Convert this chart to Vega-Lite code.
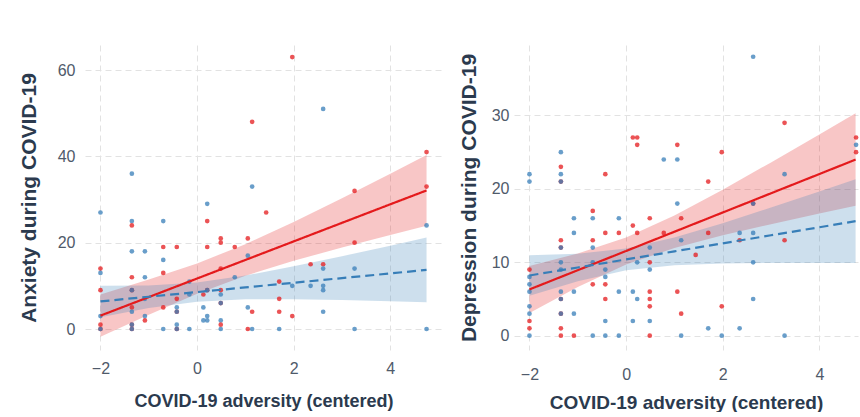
{
  "$schema": "https://vega.github.io/schema/vega-lite/v6.json",
  "padding": {"left": 18, "top": 45, "right": 0, "bottom": 0},
  "spacing": 16,
  "datasets": {
    "anx": [
      {"x":-2,"y":27,"g":"B"},{"x":-2,"y":14,"g":"A"},{"x":-2,"y":13,"g":"B"},{"x":-2,"y":9,"g":"A"},{"x":-2,"y":3,"g":"B"},{"x":-2,"y":1,"g":"A"},{"x":-2,"y":0,"g":"A"},{"x":-2,"y":0,"g":"B"},
      {"x":-1.35,"y":36,"g":"B"},{"x":-1.35,"y":25,"g":"B"},{"x":-1.35,"y":24,"g":"A"},{"x":-1.35,"y":18,"g":"B"},{"x":-1.35,"y":12,"g":"A"},{"x":-1.35,"y":9,"g":"A"},{"x":-1.35,"y":9,"g":"B"},{"x":-1.35,"y":5,"g":"A"},{"x":-1.35,"y":4,"g":"B"},{"x":-1.35,"y":1,"g":"A"},{"x":-1.35,"y":1,"g":"B"},{"x":-1.35,"y":0,"g":"A"},{"x":-1.35,"y":0,"g":"B"},
      {"x":-1.08,"y":18,"g":"B"},{"x":-1.08,"y":12,"g":"B"},{"x":-1.08,"y":7,"g":"B"},{"x":-1.08,"y":3,"g":"B"},{"x":-1.08,"y":2,"g":"A"},
      {"x":-0.7,"y":25,"g":"B"},{"x":-0.7,"y":19,"g":"A"},{"x":-0.7,"y":16,"g":"B"},{"x":-0.7,"y":13,"g":"A"},{"x":-0.7,"y":5,"g":"A"},{"x":-0.7,"y":0,"g":"B"},
      {"x":-0.42,"y":19,"g":"A"},{"x":-0.42,"y":7,"g":"A"},{"x":-0.42,"y":5,"g":"B"},{"x":-0.42,"y":4,"g":"A"},{"x":-0.42,"y":4,"g":"B"},{"x":-0.42,"y":1,"g":"B"},{"x":-0.42,"y":0,"g":"A"},{"x":-0.42,"y":0,"g":"B"},
      {"x":-0.16,"y":11,"g":"B"},{"x":-0.16,"y":8,"g":"B"},{"x":-0.16,"y":0,"g":"B"},
      {"x":0.13,"y":8,"g":"A"},{"x":0.13,"y":5,"g":"B"},{"x":0.13,"y":2,"g":"B"},
      {"x":0.21,"y":29,"g":"B"},{"x":0.21,"y":25,"g":"A"},{"x":0.21,"y":19,"g":"A"},{"x":0.21,"y":9,"g":"A"},{"x":0.21,"y":9,"g":"B"},{"x":0.21,"y":3,"g":"B"},{"x":0.21,"y":2,"g":"B"},
      {"x":0.49,"y":21,"g":"A"},{"x":0.49,"y":20,"g":"A"},{"x":0.49,"y":14,"g":"A"},{"x":0.49,"y":9,"g":"A"},{"x":0.49,"y":8,"g":"B"},{"x":0.49,"y":6,"g":"A"},{"x":0.49,"y":6,"g":"B"},{"x":0.49,"y":2,"g":"B"},{"x":0.49,"y":1,"g":"A"},{"x":0.49,"y":0,"g":"B"},
      {"x":0.78,"y":19,"g":"A"},{"x":0.78,"y":12,"g":"B"},
      {"x":1.05,"y":21,"g":"A"},{"x":1.05,"y":17,"g":"B"},{"x":1.05,"y":5,"g":"B"},{"x":1.05,"y":0,"g":"A"},
      {"x":1.14,"y":48,"g":"A"},{"x":1.14,"y":33,"g":"B"},{"x":1.14,"y":4,"g":"A"},{"x":1.14,"y":0,"g":"B"},
      {"x":1.43,"y":27,"g":"A"},
      {"x":1.7,"y":11,"g":"A"},{"x":1.7,"y":7,"g":"A"},{"x":1.7,"y":4,"g":"A"},{"x":1.7,"y":0,"g":"B"},
      {"x":1.97,"y":63,"g":"A"},{"x":1.97,"y":10,"g":"B"},{"x":1.97,"y":3,"g":"A"},
      {"x":2.35,"y":15,"g":"A"},{"x":2.35,"y":10,"g":"B"},
      {"x":2.61,"y":51,"g":"B"},{"x":2.61,"y":15,"g":"A"},{"x":2.61,"y":14,"g":"B"},{"x":2.61,"y":10,"g":"B"},{"x":2.61,"y":9,"g":"B"},{"x":2.61,"y":4,"g":"B"},
      {"x":3.26,"y":32,"g":"A"},{"x":3.26,"y":20,"g":"A"},{"x":3.26,"y":14,"g":"B"},{"x":3.26,"y":0,"g":"B"},
      {"x":4.75,"y":41,"g":"A"},{"x":4.75,"y":33,"g":"A"},{"x":4.75,"y":24,"g":"B"},{"x":4.75,"y":0,"g":"B"}
    ],
    "dep": [
      {"x":-2,"y":22,"g":"B"},{"x":-2,"y":21,"g":"B"},{"x":-2,"y":9,"g":"A"},{"x":-2,"y":8,"g":"B"},{"x":-2,"y":7,"g":"B"},{"x":-2,"y":6,"g":"B"},{"x":-2,"y":4,"g":"B"},{"x":-2,"y":3,"g":"B"},{"x":-2,"y":2,"g":"A"},{"x":-2,"y":1,"g":"A"},{"x":-2,"y":0,"g":"B"},
      {"x":-1.35,"y":25,"g":"B"},{"x":-1.35,"y":23,"g":"A"},{"x":-1.35,"y":22,"g":"B"},{"x":-1.35,"y":21,"g":"A"},{"x":-1.35,"y":21,"g":"B"},{"x":-1.35,"y":13,"g":"A"},{"x":-1.35,"y":12,"g":"A"},{"x":-1.35,"y":12,"g":"B"},{"x":-1.35,"y":10,"g":"B"},{"x":-1.35,"y":9,"g":"B"},{"x":-1.35,"y":6,"g":"B"},{"x":-1.35,"y":5,"g":"A"},{"x":-1.35,"y":5,"g":"B"},{"x":-1.35,"y":3,"g":"A"},{"x":-1.35,"y":3,"g":"B"},{"x":-1.35,"y":1,"g":"A"},{"x":-1.35,"y":0,"g":"A"},
      {"x":-1.08,"y":16,"g":"B"},{"x":-1.08,"y":14,"g":"B"},{"x":-1.08,"y":6,"g":"B"},{"x":-1.08,"y":3,"g":"B"},{"x":-1.08,"y":0,"g":"A"},
      {"x":-0.69,"y":17,"g":"A"},{"x":-0.69,"y":16,"g":"B"},{"x":-0.69,"y":13,"g":"A"},{"x":-0.69,"y":12,"g":"B"},{"x":-0.69,"y":10,"g":"B"},{"x":-0.69,"y":7,"g":"A"},{"x":-0.69,"y":0,"g":"B"},
      {"x":-0.43,"y":22,"g":"A"},{"x":-0.43,"y":14,"g":"A"},{"x":-0.43,"y":9,"g":"B"},{"x":-0.43,"y":8,"g":"B"},{"x":-0.43,"y":7,"g":"A"},{"x":-0.43,"y":5,"g":"A"},{"x":-0.43,"y":2,"g":"B"},{"x":-0.43,"y":0,"g":"B"},
      {"x":-0.15,"y":16,"g":"B"},{"x":-0.15,"y":14,"g":"A"},{"x":-0.15,"y":6,"g":"B"},{"x":-0.15,"y":0,"g":"B"},
      {"x":0.14,"y":27,"g":"A"},{"x":0.14,"y":15,"g":"A"},{"x":0.14,"y":6,"g":"B"},{"x":0.14,"y":2,"g":"B"},
      {"x":0.23,"y":27,"g":"A"},{"x":0.23,"y":26,"g":"A"},{"x":0.23,"y":14,"g":"A"},{"x":0.23,"y":10,"g":"B"},{"x":0.23,"y":5,"g":"B"},
      {"x":0.49,"y":16,"g":"A"},{"x":0.49,"y":12,"g":"B"},{"x":0.49,"y":10,"g":"A"},{"x":0.49,"y":9,"g":"B"},{"x":0.49,"y":6,"g":"A"},{"x":0.49,"y":5,"g":"A"},{"x":0.49,"y":4,"g":"A"},{"x":0.49,"y":2,"g":"B"},{"x":0.49,"y":0,"g":"A"},
      {"x":0.78,"y":24,"g":"B"},{"x":0.78,"y":14,"g":"A"},
      {"x":1.06,"y":26,"g":"A"},{"x":1.06,"y":24,"g":"B"},{"x":1.06,"y":18,"g":"B"},{"x":1.06,"y":6,"g":"A"},
      {"x":1.14,"y":16,"g":"A"},{"x":1.14,"y":13,"g":"B"},{"x":1.14,"y":3,"g":"A"},{"x":1.14,"y":0,"g":"B"},
      {"x":1.44,"y":11,"g":"A"},
      {"x":1.7,"y":21,"g":"A"},{"x":1.7,"y":14,"g":"A"},{"x":1.7,"y":1,"g":"B"},
      {"x":1.98,"y":25,"g":"A"},{"x":1.98,"y":4,"g":"A"},{"x":1.98,"y":0,"g":"B"},
      {"x":2.35,"y":14,"g":"B"},{"x":2.35,"y":13,"g":"A"},{"x":2.35,"y":1,"g":"B"},
      {"x":2.63,"y":38,"g":"B"},{"x":2.63,"y":18,"g":"A"},{"x":2.63,"y":18,"g":"B"},{"x":2.63,"y":14,"g":"B"},{"x":2.63,"y":10,"g":"B"},{"x":2.63,"y":5,"g":"B"},
      {"x":3.28,"y":29,"g":"A"},{"x":3.28,"y":22,"g":"B"},{"x":3.28,"y":13,"g":"A"},{"x":3.28,"y":0,"g":"B"},
      {"x":4.76,"y":27,"g":"A"},{"x":4.76,"y":26,"g":"B"},{"x":4.76,"y":25,"g":"A"}
    ],
    "anxfit": [
      {"x":-2,"fit":3.1,"lo":-1.8,"hi":8.0,"g":"A"},{"x":-1,"fit":7.4,"lo":3.3,"hi":11.5,"g":"A"},{"x":0,"fit":11.7,"lo":8.2,"hi":15.2,"g":"A"},{"x":1,"fit":16.0,"lo":12.35,"hi":19.65,"g":"A"},{"x":2,"fit":20.3,"lo":15.8,"hi":24.8,"g":"A"},{"x":3,"fit":24.6,"lo":18.9,"hi":30.3,"g":"A"},{"x":4,"fit":28.9,"lo":21.8,"hi":36.0,"g":"A"},{"x":4.75,"fit":32.1,"lo":23.9,"hi":40.3,"g":"A"},
      {"x":-2,"fit":6.4,"lo":2.75,"hi":10.05,"g":"B"},{"x":-1,"fit":7.48,"lo":4.85,"hi":10.11,"g":"B"},{"x":0,"fit":8.56,"lo":6.32,"hi":10.8,"g":"B"},{"x":1,"fit":9.64,"lo":6.9,"hi":12.38,"g":"B"},{"x":2,"fit":10.72,"lo":6.92,"hi":14.52,"g":"B"},{"x":3,"fit":11.8,"lo":6.73,"hi":16.87,"g":"B"},{"x":4,"fit":12.88,"lo":6.44,"hi":19.32,"g":"B"},{"x":4.75,"fit":13.7,"lo":6.2,"hi":21.2,"g":"B"}
    ],
    "depfit": [
      {"x":-2,"fit":6.3,"lo":3.1,"hi":9.5,"g":"A"},{"x":-1,"fit":8.92,"lo":6.64,"hi":11.2,"g":"A"},{"x":0,"fit":11.54,"lo":9.7,"hi":13.38,"g":"A"},{"x":1,"fit":14.16,"lo":11.95,"hi":16.37,"g":"A"},{"x":2,"fit":16.78,"lo":13.67,"hi":19.89,"g":"A"},{"x":3,"fit":19.4,"lo":15.19,"hi":23.61,"g":"A"},{"x":4,"fit":22.02,"lo":16.63,"hi":27.41,"g":"A"},{"x":4.75,"fit":23.99,"lo":17.7,"hi":30.3,"g":"A"},
      {"x":-2,"fit":8.2,"lo":5.45,"hi":10.95,"g":"B"},{"x":-1,"fit":9.29,"lo":7.41,"hi":11.17,"g":"B"},{"x":0,"fit":10.39,"lo":8.91,"hi":11.87,"g":"B"},{"x":1,"fit":11.49,"lo":9.61,"hi":13.37,"g":"B"},{"x":2,"fit":12.58,"lo":9.83,"hi":15.33,"g":"B"},{"x":3,"fit":13.68,"lo":9.9,"hi":17.46,"g":"B"},{"x":4,"fit":14.77,"lo":9.91,"hi":19.63,"g":"B"},{"x":4.75,"fit":15.6,"lo":9.9,"hi":21.3,"g":"B"}
    ]
  },
  "config": {
    "font": "Liberation Sans",
    "view": {"stroke": null},
    "axis": {"grid": true, "gridColor": "#e2e2e2", "gridDash": [6, 4], "gridWidth": 1, "domain": false, "ticks": false, "labelFontSize": 16, "labelColor": "#4f5a6a", "titleFontSize": 21, "titleColor": "#2b3a4e", "titleFontWeight": "bold"},
    "legend": {"titleFontSize": 18.5, "titleFontWeight": "bold", "titleColor": "#2b3a4e", "labelFontSize": 18.5, "labelColor": "#2b3a4e"}
  },
  "resolve": {"scale": {"fill": "independent", "stroke": "independent", "strokeDash": "independent"}},
  "hconcat": [
    {
      "width": 357,
      "height": 305,
      "layer": [
        {
          "data": {"name": "anxfit"},
          "mark": {"type": "area", "opacity": 0.25},
          "encoding": {
            "x": {"field": "x", "type": "quantitative", "scale": {"domain": [-2.32, 5.07], "nice": false, "zero": false}, "axis": {"values": [-2, 0, 2, 4], "title": "COVID-19 adversity (centered)", "labelPadding": 10, "titlePadding": 16, "titleFontSize": 18}},
            "y": {"field": "lo", "type": "quantitative", "scale": {"domain": [-4.86, 65.8], "nice": false, "zero": false}, "axis": {"values": [0, 20, 40, 60], "title": "Anxiety during COVID-19", "labelPadding": 10, "titlePadding": 18}},
            "y2": {"field": "hi"},
            "fill": {"field": "g", "type": "nominal", "scale": {"domain": ["A", "B"], "range": ["#E41A1C", "#377EB8"]}, "legend": null}
          }
        },
        {
          "data": {"name": "anx"},
          "mark": {"type": "point", "filled": true, "size": 22, "opacity": 0.75, "strokeWidth": 0},
          "encoding": {
            "x": {"field": "x", "type": "quantitative"},
            "y": {"field": "y", "type": "quantitative"},
            "fill": {"field": "g", "type": "nominal", "legend": null}
          }
        },
        {
          "data": {"name": "anxfit"},
          "mark": {"type": "line", "strokeWidth": 2.2},
          "encoding": {
            "x": {"field": "x", "type": "quantitative"},
            "y": {"field": "fit", "type": "quantitative"},
            "stroke": {"field": "g", "type": "nominal", "title": "Subgroup", "scale": {"domain": ["A", "B"], "range": ["#E41A1C", "#377EB8"]}, "legend": {"orient": "none", "legendX": 56, "legendY": -44, "direction": "horizontal"}},
            "strokeDash": {"field": "g", "type": "nominal", "title": "Subgroup", "scale": {"domain": ["A", "B"], "range": [[1, 0], [9, 5]]}, "legend": {"orient": "none", "legendX": 56, "legendY": -44, "direction": "horizontal"}}
          }
        }
      ]
    },
    {
      "width": 344,
      "height": 305,
      "layer": [
        {
          "data": {"name": "depfit"},
          "mark": {"type": "area", "opacity": 0.25},
          "encoding": {
            "x": {"field": "x", "type": "quantitative", "scale": {"domain": [-2.32, 4.8], "nice": false, "zero": false}, "axis": {"values": [-2, 0, 2, 4], "title": "COVID-19 adversity (centered)", "labelPadding": 16, "titlePadding": 11, "titleFontSize": 19}},
            "y": {"field": "lo", "type": "quantitative", "scale": {"domain": [-1.95, 39.6], "nice": false, "zero": false}, "axis": {"values": [0, 10, 20, 30], "title": "Depression during COVID-19", "labelPadding": 5, "titlePadding": 12}},
            "y2": {"field": "hi"},
            "fill": {"field": "g", "type": "nominal", "scale": {"domain": ["A", "B"], "range": ["#E41A1C", "#377EB8"]}, "legend": null}
          }
        },
        {
          "data": {"name": "dep"},
          "mark": {"type": "point", "filled": true, "size": 22, "opacity": 0.75, "strokeWidth": 0},
          "encoding": {
            "x": {"field": "x", "type": "quantitative"},
            "y": {"field": "y", "type": "quantitative"},
            "fill": {"field": "g", "type": "nominal", "legend": null}
          }
        },
        {
          "data": {"name": "depfit"},
          "mark": {"type": "line", "strokeWidth": 2.2},
          "encoding": {
            "x": {"field": "x", "type": "quantitative"},
            "y": {"field": "fit", "type": "quantitative"},
            "stroke": {"field": "g", "type": "nominal", "title": "Subgroup", "scale": {"domain": ["A", "B"], "range": ["#E41A1C", "#377EB8"]}, "legend": {"orient": "none", "legendX": 56, "legendY": -44, "direction": "horizontal"}},
            "strokeDash": {"field": "g", "type": "nominal", "title": "Subgroup", "scale": {"domain": ["A", "B"], "range": [[1, 0], [9, 5]]}, "legend": {"orient": "none", "legendX": 56, "legendY": -44, "direction": "horizontal"}}
          }
        }
      ]
    }
  ]
}
